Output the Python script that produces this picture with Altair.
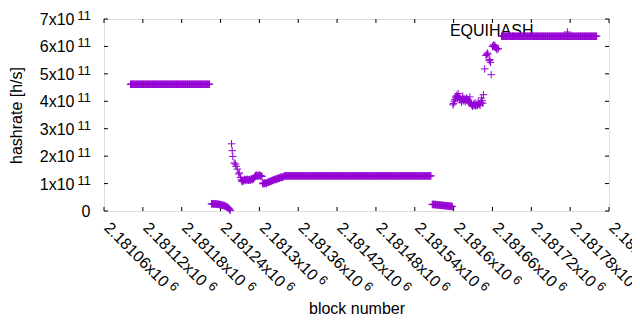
import altair as alt
import pandas as pd

# ---- data (hashrate in units of 1e11 h/s) ----
# flat runs: one sample per block from start to end
run_start = [2181101, 2181339, 2181674]
run_end = [2181223, 2181565, 2181821]
run_value = [4.62, 1.28, 6.37]

# low segment after first plateau (consecutive blocks)
low1_start = 2181226
low1_values = [0.26, 0.26, 0.27, 0.26, 0.26, 0.25, 0.26, 0.26, 0.25, 0.25, 0.24, 0.25, 0.24, 0.23, 0.23,
               0.22, 0.22, 0.21, 0.20, 0.20, 0.19, 0.18, 0.17, 0.16, 0.14, 0.13, 0.11, 0.09, 0.06, 0.02]

# spike and decay
spike_blocks = [2181257, 2181258, 2181259, 2181261, 2181263, 2181264, 2181266, 2181268, 2181269, 2181271]
spike_values = [2.45, 2.20, 1.99, 1.75, 1.71, 1.63, 1.53, 1.35, 1.39, 1.22]

# noisy band before second plateau (consecutive blocks)
mid_start = 2181272
mid_values = [1.14, 1.08, 1.11, 1.08, 1.12, 1.15, 1.14, 1.11, 1.14, 1.16, 1.13, 1.12, 1.15, 1.14, 1.12, 1.16,
              1.17, 1.14, 1.16, 1.18, 1.21,
              1.26, 1.28, 1.31, 1.29, 1.27, 1.30, 1.28, 1.31, 1.29, 1.27, 1.28, 1.26,
              1.01, 0.99, 1.02, 1.00, 1.03, 1.01, 1.00, 1.04, 1.05,
              1.05, 1.07, 1.06, 1.09, 1.08, 1.10, 1.12, 1.11, 1.13, 1.15, 1.14, 1.16, 1.15, 1.18, 1.17,
              1.19, 1.21, 1.19, 1.22, 1.23, 1.21, 1.24, 1.23, 1.25, 1.26]

# second low segment (consecutive blocks)
low2_start = 2181567
low2_values = [0.24, 0.23, 0.25, 0.24, 0.23, 0.24, 0.22, 0.23, 0.23, 0.22, 0.21, 0.22, 0.22, 0.21, 0.20, 0.21,
               0.21, 0.20, 0.20, 0.19, 0.20, 0.19, 0.19, 0.18, 0.19, 0.18, 0.18, 0.17, 0.18, 0.17, 0.17, 0.16]

# noisy ~4e11 segment (consecutive blocks)
noisy_start = 2181599
noisy_values = [3.87, 3.92, 4.00, 4.06, 4.12, 4.18, 4.22, 4.14, 4.28, 4.16, 4.12, 4.04, 4.08, 3.96, 4.06, 4.18,
                4.02, 4.10, 4.06, 3.98, 4.04, 4.12, 4.08, 4.00, 4.05, 3.94, 4.16, 3.96, 3.91, 3.87, 3.82, 3.84,
                3.90, 3.86, 3.94, 3.83, 3.87, 3.90, 3.85, 3.96, 3.88, 3.91, 3.86, 3.95, 4.12, 4.02, 3.93, 4.24]

# rise to last plateau
rise_blocks = [2181648, 2181650, 2181651, 2181652, 2181653, 2181655, 2181656, 2181657, 2181658,
               2181660, 2181661, 2181662, 2181663, 2181664, 2181665, 2181666, 2181667, 2181669]
rise_values = [5.18, 5.67, 5.70, 5.76, 5.72, 5.48, 5.52, 5.42, 4.97,
               6.00, 6.02, 6.06, 5.98, 6.03, 5.96, 5.92, 5.88, 5.92]

# axis ticks
x_tick_values = [2181060, 2181120, 2181180, 2181240, 2181300, 2181360, 2181420,
                 2181480, 2181540, 2181600, 2181660, 2181720, 2181780, 2181840]
x_tick_mant = ["2.18106", "2.18112", "2.18118", "2.18124", "2.1813", "2.18136", "2.18142",
               "2.18148", "2.18154", "2.1816", "2.18166", "2.18172", "2.18178", "2.18184"]
x_tick_exp = "6"
y_tick_values = [0, 1, 2, 3, 4, 5, 6, 7]
y_tick_mant = ["0", "1x10", "2x10", "3x10", "4x10", "5x10", "6x10", "7x10"]
y_tick_exp = ["", "11", "11", "11", "11", "11", "11", "11"]

series_name = "EQUIHASH"

# ---- assemble ----
blocks, values = [], []
for s, e, v in zip(run_start, run_end, run_value):
    for b in range(s, e + 1):
        blocks.append(b)
        values.append(v)
for start, vals in [(low1_start, low1_values), (mid_start, mid_values),
                    (low2_start, low2_values), (noisy_start, noisy_values)]:
    for i, v in enumerate(vals):
        blocks.append(start + i)
        values.append(v)
blocks += spike_blocks + rise_blocks
values += spike_values + rise_values
df = pd.DataFrame({"block": blocks, "hashrate": values})

xt = pd.DataFrame({"value": x_tick_values, "mant": x_tick_mant})
xt["main"] = xt["mant"] + "x10"
xt["exp"] = x_tick_exp
yt = pd.DataFrame({"value": y_tick_values, "mant": y_tick_mant, "exp": y_tick_exp})

W, H = 505, 192
XMIN, XMAX = 2181060, 2181840
UNITS_PER_PX = (XMAX - XMIN) / W
FONT = "Liberation Sans"
COLOR = "#9400D3"
PLUS = "M-1,0L1,0M0,-1L0,1"

xscale = alt.Scale(domain=[XMIN, XMAX], nice=False, zero=False)
yscale = alt.Scale(domain=[0, 7], nice=False)

points = alt.Chart(df).mark_point(
    shape=PLUS, filled=False, size=56, strokeWidth=1, color=COLOR, opacity=1
).encode(
    x=alt.X("block:Q", scale=xscale,
            axis=alt.Axis(title="block number", labels=False, ticks=False, domain=False, grid=False,
                          titlePadding=89, titleFontSize=16, titleFont=FONT,
                          titleFontWeight="normal", titleColor="black")),
    y=alt.Y("hashrate:Q", scale=yscale,
            axis=alt.Axis(title="hashrate [h/s]", labels=False, ticks=False, domain=False, grid=False,
                          titlePadding=80, titleFontSize=16, titleFont=FONT,
                          titleFontWeight="normal", titleColor="black")),
)

xticks_b = alt.Chart(xt).mark_rule(color="black", strokeWidth=1).encode(
    x=alt.X("value:Q", scale=xscale), y=alt.value(H), y2=alt.value(H - 4))
xticks_t = alt.Chart(xt).mark_rule(color="black", strokeWidth=1).encode(
    x=alt.X("value:Q", scale=xscale), y=alt.value(0), y2=alt.value(4))
yticks_l = alt.Chart(yt).mark_rule(color="black", strokeWidth=1).encode(
    y=alt.Y("value:Q", scale=yscale), x=alt.value(0), x2=alt.value(4))
yticks_r = alt.Chart(yt).mark_rule(color="black", strokeWidth=1).encode(
    y=alt.Y("value:Q", scale=yscale), x=alt.value(W), x2=alt.value(W - 4))

xlab = alt.Chart(xt).mark_text(
    angle=45, align="left", baseline="alphabetic", fontSize=16, font=FONT, color="black", dx=-1
).encode(x=alt.X("value:Q", scale=xscale), y=alt.value(H + 18.5), text="main:N")

# superscript exponent placed after the rotated mantissa text
xsup = alt.Chart(xt).transform_calculate(
    w="(length(datum.mant) - 1) * 8.896 + 4.448 + 25.79 + 3.5"
).transform_calculate(
    sx="-1 + datum.w * 0.7071 + 5.8 * 0.7071",
    sy=f"{H + 18.5} + datum.w * 0.7071 - 5.8 * 0.7071",
).transform_calculate(
    sxv=f"datum.value + datum.sx * {UNITS_PER_PX}"
).mark_text(
    angle=45, align="left", baseline="alphabetic", fontSize=12.8, font=FONT, color="black"
).encode(
    x=alt.X("sxv:Q", scale=xscale),
    y=alt.Y("sy:Q", scale=None),
    text="exp:N",
)

ylab_main = alt.Chart(yt).transform_filter("datum.exp != ''").mark_text(
    align="right", baseline="middle", fontSize=16, font=FONT, color="black", dy=1
).encode(y=alt.Y("value:Q", scale=yscale), x=alt.value(-29.5), text="mant:N")
ylab_zero = alt.Chart(yt).transform_filter("datum.exp == ''").mark_text(
    align="right", baseline="middle", fontSize=16, font=FONT, color="black", dy=1
).encode(y=alt.Y("value:Q", scale=yscale), x=alt.value(-13.5), text="mant:N")
ylab_sup = alt.Chart(yt).transform_filter("datum.exp != ''").mark_text(
    align="left", baseline="middle", fontSize=12.8, font=FONT, color="black", dy=-3
).encode(y=alt.Y("value:Q", scale=yscale), x=alt.value(-26.5), text="exp:N")

keydf = pd.DataFrame({"label": [series_name]})
key_text = alt.Chart(keydf).mark_text(
    align="right", baseline="middle", fontSize=16, font=FONT, color="black"
).encode(text="label:N", x=alt.value(429.5), y=alt.value(12))
key_sample = alt.Chart(keydf).mark_point(
    shape=PLUS, filled=False, size=56, strokeWidth=1, color=COLOR, opacity=1
).encode(x=alt.value(463.4), y=alt.value(13))

chart = alt.layer(
    key_text, xticks_b, xticks_t, yticks_l, yticks_r,
    xlab, xsup, ylab_main, ylab_zero, ylab_sup,
    points, key_sample,
).properties(
    width=W, height=H,
    padding={"left": 96, "top": 11, "right": 23, "bottom": 105},
    autosize=alt.AutoSizeParams(type="none"),
    background="white",
).configure_view(stroke="black", strokeWidth=1).configure(font=FONT)

chart.save("out.html", embed_options={"renderer": "svg", "actions": False})
